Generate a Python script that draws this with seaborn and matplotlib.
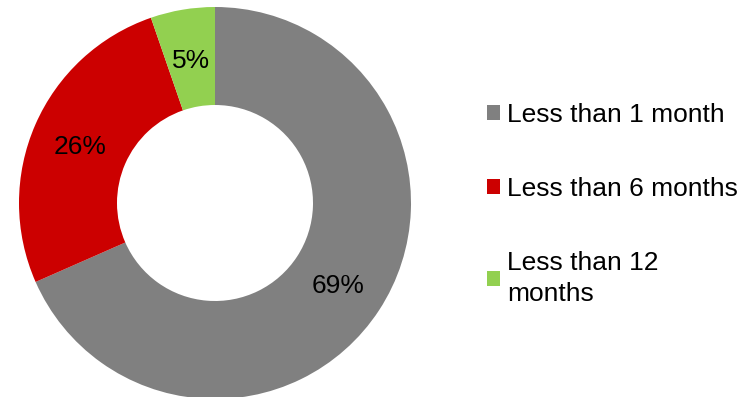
import matplotlib
matplotlib.use("Agg")
import matplotlib.pyplot as plt
import seaborn as sns
import numpy as np
from matplotlib.patches import Patch

categories = ["Less than 1 month", "Less than 6 months", "Less than 12\nmonths"]
values = [68.4, 26.3, 5.3]
pct_labels = ["69%", "26%", "5%"]
colors = ["#808080", "#CC0000", "#92D050"]

sns.set_theme(style="white")
plt.rcParams['font.family'] = ['Liberation Sans', 'DejaVu Sans']

W, H = 754, 397
fig = plt.figure(figsize=(W / 100, H / 100), dpi=100)
cx, cy, r = 215, 203, 196
ax = fig.add_axes([(cx - r) / W, (H - cy - r) / H, 2 * r / W, 2 * r / H])
wedges, texts = ax.pie(
    values, colors=sns.color_palette(colors), startangle=90, counterclock=False,
    radius=1, wedgeprops=dict(width=0.5, linewidth=0))
for w, lab in zip(wedges, pct_labels):
    ang = np.deg2rad((w.theta1 + w.theta2) / 2)
    ax.text(0.75 * np.cos(ang), 0.75 * np.sin(ang), lab, ha="center",
            va="center_baseline", fontsize=19, color="black")
ax.set_xlim(-1, 1)
ax.set_ylim(-1, 1)
ax.set_aspect("equal")
ax.axis("off")

handles = [Patch(facecolor=c, edgecolor="none") for c in colors]
leg = fig.legend(handles, categories, loc="upper left", bbox_to_anchor=(487 / W, 1 - 103 / H),
                 frameon=False, fontsize=19, handlelength=0.5, handleheight=0.5,
                 handletextpad=0.27, labelspacing=1.9, borderaxespad=0, borderpad=0)
for t in leg.get_texts():
    t.set_color("black")
    t.set_linespacing(1.37)

fig.savefig("out.png", dpi=100)
